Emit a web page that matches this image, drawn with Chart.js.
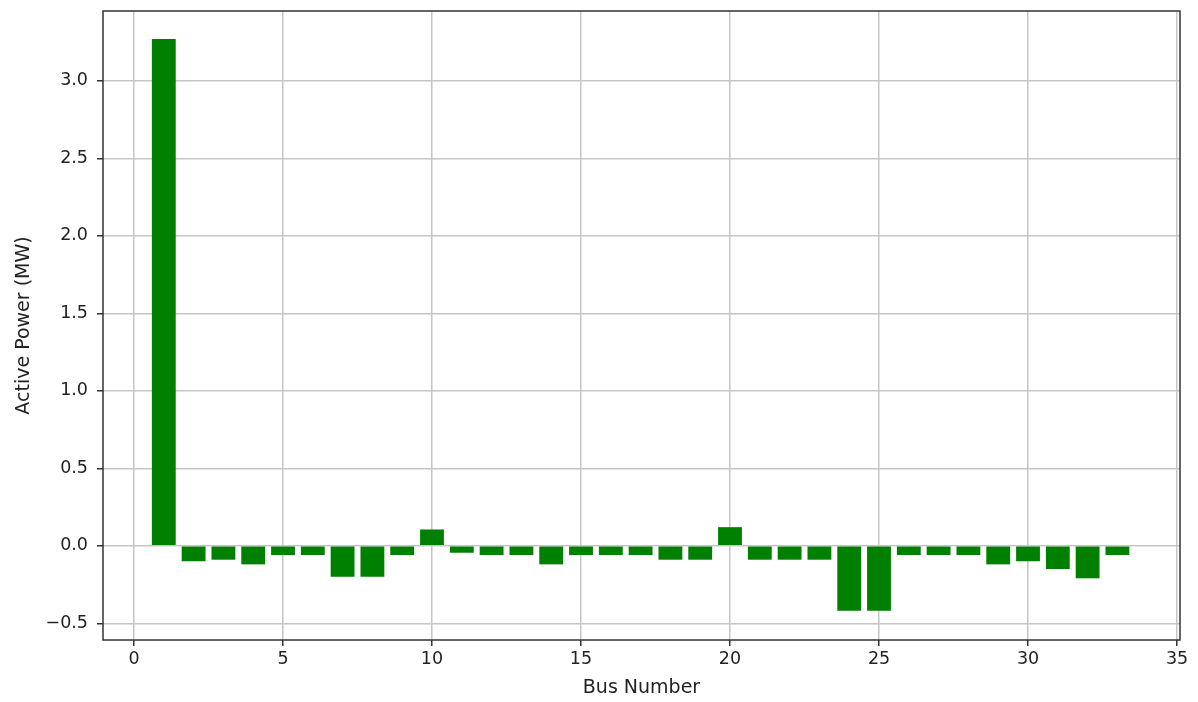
<!DOCTYPE html>
<html>
<head>
<meta charset="utf-8">
<script src="https://cdn.jsdelivr.net/npm/chart.js@4.4.0/dist/chart.umd.min.js"></script>
<style>
  html, body { margin: 0; padding: 0; background: #fff; }
  #wrap { width: 1198px; height: 702px; }
</style>
</head>
<body>
<div id="wrap"><canvas id="myChart" width="1198" height="702"></canvas></div>
<script>
var busNumbers = [1, 2, 3, 4, 5, 6, 7, 8, 9, 10, 11, 12, 13, 14, 15, 16, 17,
                  18, 19, 20, 21, 22, 23, 24, 25, 26, 27, 28, 29, 30, 31, 32, 33];
var activePower = [3.27, -0.10, -0.09, -0.12, -0.06, -0.06, -0.20, -0.20, -0.06, 0.105,
                   -0.045, -0.06, -0.06, -0.12, -0.06, -0.06, -0.06, -0.09, -0.09, 0.12,
                   -0.09, -0.09, -0.09, -0.42, -0.42, -0.06, -0.06, -0.06, -0.12, -0.10,
                   -0.15, -0.21, -0.06];
var xTicks = [0, 5, 10, 15, 20, 25, 30, 35];
var yTicks = [-0.5, 0.0, 0.5, 1.0, 1.5, 2.0, 2.5, 3.0];

var tickFont = { family: 'DejaVu Sans', size: 17.5 };
var labelFont = { family: 'DejaVu Sans', size: 19 };
var gridColor = '#c6c6c6';

// box around the plot area, like matplotlib's spines
var frame = {
    id: 'frame',
    afterDraw: function(chart) {
        var a = chart.chartArea, c = chart.ctx;
        c.save();
        c.strokeStyle = '#333';
        c.lineWidth = 1.5;
        c.strokeRect(a.left, a.top, a.right - a.left, a.bottom - a.top);
        c.restore();
    }
};

var ctx = document.getElementById("myChart").getContext('2d');
var myChart = new Chart(ctx, {
    type: 'bar',
    data: {
        datasets: [{
            label: 'Active Power',
            data: busNumbers.map(function(b, i) { return { x: b, y: activePower[i] }; }),
            backgroundColor: '#008000',
            borderWidth: 0,
            barPercentage: 0.8,
            categoryPercentage: 1.0
        }]
    },
    options: {
        responsive: false,
        animation: false,
        layout: { padding: { top: 11, right: 18, left: 0, bottom: 0 } },
        plugins: { legend: { display: false }, tooltip: { enabled: false } },
        scales: {
            x: {
                type: 'linear',
                offset: false,
                min: -1.04,
                max: 35.1,
                z: 1,
                afterBuildTicks: function(s) { s.ticks = xTicks.map(function(v) { return { value: v }; }); },
                afterFit: function(s) { s.height = 62; s.paddingLeft = 0; s.paddingRight = 0; },
                ticks: { font: tickFont, color: '#222', padding: 3, maxRotation: 0 },
                grid: { offset: false, color: gridColor, lineWidth: 1.5, tickColor: '#333', tickLength: 6 },
                border: { display: false },
                title: { display: true, text: 'Bus Number', font: labelFont, color: '#222', padding: { top: 0, bottom: 3 } }
            },
            y: {
                min: -0.608,
                max: 3.45,
                z: 1,
                afterBuildTicks: function(s) { s.ticks = yTicks.map(function(v) { return { value: v }; }); },
                afterFit: function(s) { s.width = 103; s.paddingTop = 0; s.paddingBottom = 0; },
                ticks: {
                    font: tickFont, color: '#222', padding: 9,
                    callback: function(v) { return v.toFixed(1).replace('-', '\u2212'); }
                },
                grid: { color: gridColor, lineWidth: 1.5, tickColor: '#333', tickLength: 6 },
                border: { display: false },
                title: { display: true, text: 'Active Power (MW)', font: labelFont, color: '#222', padding: { top: 13, bottom: 0 } }
            }
        }
    },
    plugins: [frame]
});
</script>
</body>
</html>
